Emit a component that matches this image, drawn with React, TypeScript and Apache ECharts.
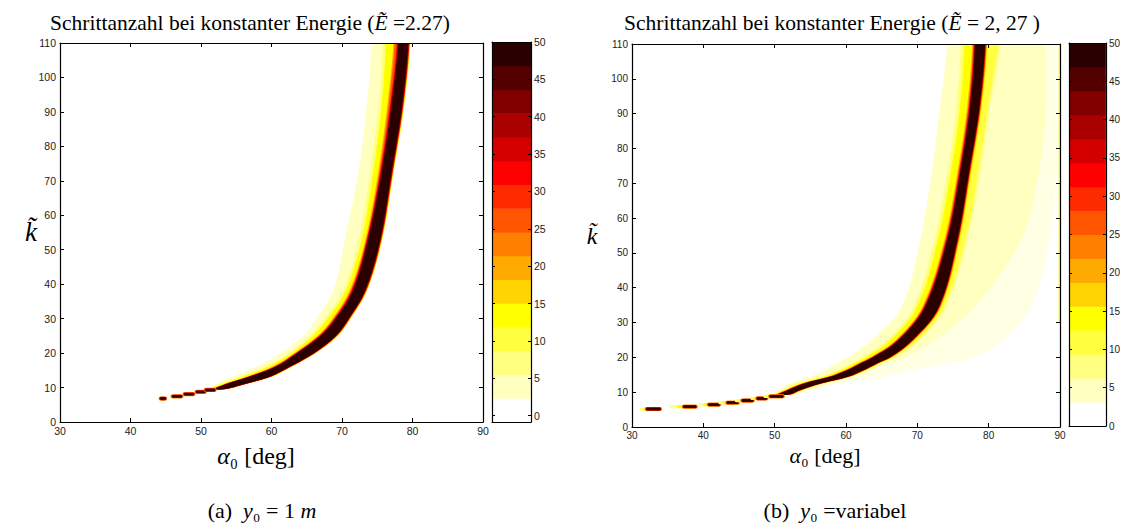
import React, { useEffect, useRef } from "react";
import * as echarts from "echarts";

// ---------- colour levels (16 filled contour levels) ----------
const levelColors = [
  "#FFFFFF", "#FFFFBF", "#FFFF80", "#FFFF40", "#FFFF00", "#FFD400", "#FFAA00", "#FF8000",
  "#FF5500", "#FF2B00", "#FF0000", "#D40000", "#AA0000", "#800000", "#550000", "#2B0000",
];
const cbEdgesA = [-0.85, 2.33, 5.51, 8.68, 11.86, 15.04, 18.22, 21.4, 24.58, 27.75, 30.93, 34.11, 37.29, 40.47, 43.64, 46.82, 50];
const cbEdgesB = [0, 3.125, 6.25, 9.375, 12.5, 15.625, 18.75, 21.875, 25, 28.125, 31.25, 34.375, 37.5, 40.625, 43.75, 46.875, 50];
const cbTicks = [0, 5, 10, 15, 20, 25, 30, 35, 40, 45, 50];

// ---------- plot (a): y0 = 1 m ----------
const kA = [9.6, 10.7, 13.2, 16.1, 19.9, 24.8, 29.6, 38.3, 52.8, 72.2, 91.5, 110];
const paleLA = [51.0, 51.8, 54.5, 57.9, 61.2, 64.5, 66.2, 68.8, 70.4, 72.3, 73.5, 74.2];
const yelLA = [51.4, 52.6, 56.0, 59.6, 62.8, 65.8, 67.8, 70.6, 72.8, 74.4, 75.6, 76.2];
const orgLA = [51.7, 52.9, 56.6, 60.2, 63.2, 66.4, 68.5, 71.1, 73.3, 75.1, 76.4, 77.3];
const darkLA = [52.0, 53.2, 57.0, 60.7, 63.6, 66.9, 69.0, 71.6, 73.7, 75.6, 77.0, 78.0];
const darkRA = [53.4, 55.5, 59.8, 62.6, 65.9, 69.0, 70.8, 73.3, 75.4, 77.0, 78.5, 79.4];
// separated dashes at low k: [tail start, dark start, dark end, k]
const dashesA = [
  [44.0, 44.2, 45.0, 6.8],
  [45.7, 45.9, 47.3, 7.45],
  [47.4, 47.6, 49.0, 8.1],
  [49.0, 49.3, 50.6, 8.75],
  [50.3, 50.6, 52.0, 9.3],
];

// ---------- plot (b): y0 = variabel ----------
const kB = [9.3, 10.5, 12.5, 14.4, 16.3, 18.2, 20.1, 25.0, 34.5, 53.7, 72.8, 92.0, 110];
const paleLB = [49.8, 50.6, 52.2, 55.0, 57.0, 58.6, 60.4, 63.6, 67.8, 70.4, 72.0, 73.2, 74.2];
const yelLB = [50.2, 51.2, 53.4, 56.9, 59.2, 61.0, 62.8, 66.2, 69.9, 72.8, 74.6, 75.9, 76.5];
const darkLB = [50.6, 51.8, 54.2, 57.8, 60.2, 62.0, 63.9, 67.4, 71.1, 74.2, 76.0, 77.4, 78.1];
const darkRB = [52.0, 53.4, 56.4, 60.2, 62.4, 64.2, 66.2, 69.3, 73.0, 75.6, 77.2, 78.7, 79.5];
const yelRB = [52.2, 53.7, 56.8, 60.7, 63.0, 64.9, 67.0, 70.3, 74.0, 77.0, 78.8, 80.2, 81.6];
const paleRB = [52.5, 54.3, 57.5, 61.0, 63.5, 65.5, 68.5, 72.5, 78.0, 84.5, 87.0, 88.0, 88.0];
const fragRB = [53.0, 55.0, 59.0, 65.0, 69.0, 74.0, 78.0, 82.0, 86.0, 88.5, 89.5, 89.5, 89.5];
const dashesB = [
  [31.1, 32.0, 34.0, 5.17],
  [35.3, 37.2, 39.0, 5.85],
  [39.3, 40.7, 42.3, 6.43],
  [42.1, 43.3, 44.9, 7.0],
  [44.4, 45.4, 47.0, 7.6],
  [46.6, 47.5, 48.9, 8.2],
  [48.4, 49.3, 51.2, 8.8],
];
const edgeStripB = [[89.8, 90, 30, 110]];

const edgesA: Record<string, number[]> = { paleL: paleLA, yelL: yelLA, orgL: orgLA, darkL: darkLA, darkR: darkRA };
const edgesB: Record<string, number[]> = {
  paleL: paleLB, yelL: yelLB, darkL: darkLB, darkR: darkRB, yelR: yelRB, paleR: paleRB, fragR: fragRB,
};

type Layer = { color: string; left: string; ls: number; right: string; rs: number };
const layersA: Layer[] = [
  { color: "#FFFFBF", left: "paleL", ls: 0, right: "darkR", rs: 2.5 },
  { color: "#FFFF80", left: "yelL", ls: -3, right: "darkR", rs: 2.2 },
  { color: "#FFFF00", left: "yelL", ls: 0, right: "darkR", rs: 2.0 },
  { color: "#FFAA00", left: "orgL", ls: 0, right: "darkR", rs: 1.6 },
  { color: "#FF5500", left: "orgL", ls: 1.2, right: "darkR", rs: 1.3 },
  { color: "#FF0000", left: "darkL", ls: -1.5, right: "darkR", rs: 1.0 },
  { color: "#AA0000", left: "darkL", ls: -0.8, right: "darkR", rs: 0.6 },
  { color: "#2B0000", left: "darkL", ls: 0, right: "darkR", rs: 0 },
];
const layersB: Layer[] = [
  { color: "#FFFFE4", left: "paleL", ls: 0, right: "fragR", rs: 0 },
  { color: "#FFFFBF", left: "paleL", ls: 0, right: "paleR", rs: 0 },
  { color: "#FFFF80", left: "yelL", ls: -3, right: "yelR", rs: 0 },
  { color: "#FFFF40", left: "yelL", ls: 0, right: "yelR", rs: -2 },
  { color: "#FFFF00", left: "yelL", ls: 1, right: "darkR", rs: 3 },
  { color: "#FFAA00", left: "darkL", ls: -3, right: "darkR", rs: 2 },
  { color: "#FF2B00", left: "darkL", ls: -1.8, right: "darkR", rs: 1.2 },
  { color: "#AA0000", left: "darkL", ls: -0.8, right: "darkR", rs: 0.6 },
  { color: "#2B0000", left: "darkL", ls: 0, right: "darkR", rs: 0 },
];

const SERIF = "'Liberation Serif', 'DejaVu Serif', serif";
const SANS = "'Liberation Sans', Arial, sans-serif";

function bandRender(ks: number[], edges: Record<string, number[]>, layers: Layer[]) {
  return (params: any, api: any) => {
    const L = layers[params.dataIndex];
    const left = edges[L.left];
    const right = edges[L.right];
    const n = ks.length;
    const lp: number[][] = [];
    const rp: number[][] = [];
    for (let i = 0; i < n; i++) {
      const a = api.coord([left[i], ks[i]]);
      const b = api.coord([right[i], ks[i]]);
      lp.push([a[0] + L.ls, a[1]]);
      rp.push([b[0] + L.rs, b[1]]);
    }
    // carry the top row straight up beyond the plot frame (clipped away)
    lp.push([lp[n - 1][0], lp[n - 1][1] - 40]);
    rp.push([rp[n - 1][0], rp[n - 1][1] - 40]);
    const pts = lp.concat(rp.reverse());
    return {
      type: "polygon",
      shape: { points: pts, smooth: 0.35 },
      style: { fill: L.color },
      silent: true,
    };
  };
}

function dashRender(withTail: boolean) {
  return (params: any, api: any) => {
    const t = api.value(0), d0 = api.value(1), d1 = api.value(2), k = api.value(3);
    const pt = api.coord([t, k]);
    const p0 = api.coord([d0, k]);
    const p1 = api.coord([d1, k]);
    const y = p0[1];
    const w = p1[0] - p0[0];
    const children: any[] = [];
    if (withTail) {
      children.push({ type: "rect", shape: { x: pt[0], y: y - 1.6, width: p1[0] - pt[0] + 1.5, height: 3.2, r: 1.6 }, style: { fill: "#FFFF80" } });
      children.push({ type: "rect", shape: { x: pt[0] + (p0[0] - pt[0]) * 0.5, y: y - 1.6, width: p1[0] - pt[0] - (p0[0] - pt[0]) * 0.5 + 1.5, height: 3.2, r: 1.6 }, style: { fill: "#FFFF00" } });
    }
    children.push({ type: "rect", shape: { x: p0[0] - 1.6, y: y - 2.1, width: w + 3.2, height: 4.2, r: 2.1 }, style: { fill: "#FF8000" } });
    children.push({ type: "rect", shape: { x: p0[0] - 0.8, y: y - 1.7, width: w + 1.6, height: 3.4, r: 1.7 }, style: { fill: "#D40000" } });
    children.push({ type: "rect", shape: { x: p0[0], y: y - 1.2, width: w, height: 2.4, r: 1.2 }, style: { fill: "#2B0000" } });
    return { type: "group", children, silent: true };
  };
}

function stripRender(params: any, api: any) {
  const a = api.coord([api.value(0), api.value(3)]);
  const b = api.coord([api.value(1), api.value(2)]);
  return { type: "rect", shape: { x: a[0], y: a[1], width: b[0] - a[0], height: b[1] - a[1] }, style: { fill: "#FFFF40" }, silent: true };
}

function cbRender(edges: number[]) {
  return (params: any, api: any) => {
    const i = params.dataIndex;
    const a = api.coord([0, edges[i + 1]]);
    const b = api.coord([1, edges[i]]);
    return { type: "rect", shape: { x: a[0], y: a[1], width: b[0] - a[0], height: b[1] - a[1] + 0.5 }, style: { fill: levelColors[i] }, silent: true };
  };
}

const axisLine = { show: true, onZero: false, lineStyle: { color: "#000", width: 1.2 } };

function mainX(grid: number, pos: "bottom" | "top", fs: number) {
  return {
    gridIndex: grid, type: "value", min: 30, max: 90, interval: 10, position: pos, z: 10,
    axisLine, splitLine: { show: false },
    axisTick: { show: true, inside: true, length: 4, lineStyle: { color: "#000", width: 1 } },
    axisLabel: { show: pos === "bottom", fontSize: fs, color: "#222", fontFamily: SANS, margin: 3, showMinLabel: true, showMaxLabel: true },
  };
}
function mainY(grid: number, pos: "left" | "right", fs: number) {
  return {
    gridIndex: grid, type: "value", min: 0, max: 110, interval: 10, position: pos, z: 10,
    axisLine, splitLine: { show: false },
    axisTick: { show: true, inside: true, length: 4, lineStyle: { color: "#000", width: 1 } },
    axisLabel: { show: pos === "left", fontSize: fs, color: "#222", fontFamily: SANS, margin: 4, showMinLabel: true, showMaxLabel: true },
  };
}
function cbX(grid: number, pos: "bottom" | "top") {
  return {
    gridIndex: grid, type: "value", min: 0, max: 1, position: pos, z: 10, axisLine,
    splitLine: { show: false }, axisTick: { show: false }, axisLabel: { show: false },
  };
}
function cbY(grid: number, pos: "left" | "right", min: number, fs: number) {
  return {
    gridIndex: grid, type: "value", min, max: 50, position: pos, z: 10, axisLine,
    splitLine: { show: false },
    axisTick: { show: true, inside: true, length: 3, customValues: cbTicks, lineStyle: { color: "#000", width: 1 } },
    axisLabel: { show: pos === "right", customValues: cbTicks, fontSize: fs, color: "#222", fontFamily: SANS, margin: 3 },
  };
}

function text(x: number, y: number, t: string, rich: any) {
  return { type: "text", x, y, z: 100, style: { text: t, rich, align: "center", verticalAlign: "middle", fill: "#000" } };
}
function serifRich(fs: number) {
  return {
    n: { fontFamily: SERIF, fontSize: fs, color: "#000" },
    i: { fontFamily: SERIF, fontSize: fs, fontStyle: "italic", color: "#000" },
  };
}

const option: any = {
  animation: false,
  backgroundColor: "#fff",
  grid: [
    { left: 60, top: 43, width: 423, height: 379 },
    { left: 492, top: 42, width: 39, height: 380 },
    { left: 632, top: 44, width: 428, height: 383 },
    { left: 1069, top: 43, width: 38, height: 383 },
  ],
  xAxis: [
    mainX(0, "bottom", 10.5), mainX(0, "top", 10.5),
    cbX(1, "bottom"), cbX(1, "top"),
    mainX(2, "bottom", 10), mainX(2, "top", 10),
    cbX(3, "bottom"), cbX(3, "top"),
  ],
  yAxis: [
    mainY(0, "left", 10.5), mainY(0, "right", 10.5),
    cbY(1, "left", -0.85, 10.5), cbY(1, "right", -0.85, 10.5),
    mainY(2, "left", 10), mainY(2, "right", 10),
    cbY(3, "left", 0, 10), cbY(3, "right", 0, 10),
  ],
  series: [
    { type: "custom", xAxisIndex: 0, yAxisIndex: 0, renderItem: bandRender(kA, edgesA, layersA), data: layersA.map(() => [60, 50]), clip: true },
    { type: "custom", xAxisIndex: 0, yAxisIndex: 0, renderItem: dashRender(false), data: dashesA, encode: { x: [0, 1, 2], y: 3 }, clip: true },
    { type: "custom", xAxisIndex: 2, yAxisIndex: 2, renderItem: cbRender(cbEdgesA), data: levelColors.map((_, i) => [0.5, cbEdgesA[i]]) },
    { type: "custom", xAxisIndex: 4, yAxisIndex: 4, renderItem: bandRender(kB, edgesB, layersB), data: layersB.map(() => [60, 50]), clip: true },
    { type: "custom", xAxisIndex: 4, yAxisIndex: 4, renderItem: stripRender, data: edgeStripB, encode: { x: [0, 1], y: [2, 3] }, clip: true },
    { type: "custom", xAxisIndex: 4, yAxisIndex: 4, renderItem: dashRender(true), data: dashesB, encode: { x: [0, 1, 2], y: 3 }, clip: true },
    { type: "custom", xAxisIndex: 6, yAxisIndex: 6, renderItem: cbRender(cbEdgesB), data: levelColors.map((_, i) => [0.5, cbEdgesB[i]]) },
  ],
  graphic: [
    text(250, 23, "{n|Schrittanzahl bei konstanter Energie (}{i|Ẽ}{n| =2.27)}", serifRich(21.5)),
    text(832, 23, "{n|Schrittanzahl bei konstanter Energie (}{i|Ẽ}{n| = 2, 27 )}", serifRich(21.5)),
    text(31, 232, "{i|k\u0303}", serifRich(27)),
    text(592, 236, "{i|k\u0303}", serifRich(24)),
    text(256, 456, "{i|α}{n|₀ [deg]}", serifRich(24)),
    text(825, 455, "{i|α}{n|₀ [deg]}", serifRich(22)),
    text(262, 510, "{n|(a)  }{i|y}{n|₀ = 1 }{i|m}", serifRich(22)),
    text(835, 510, "{n|(b)  }{i|y}{n|₀ =variabel}", serifRich(22)),
  ],
};

export default function App() {
  const ref = useRef<HTMLDivElement>(null);
  useEffect(() => {
    const chart = echarts.init(ref.current!, null, { renderer: "svg" });
    chart.setOption(option);
    return () => chart.dispose();
  }, []);
  return (
    <div
      ref={ref}
      style={{ position: "fixed", left: 0, top: 0, width: 1123, height: 523, background: "#fff" }}
    />
  );
}
